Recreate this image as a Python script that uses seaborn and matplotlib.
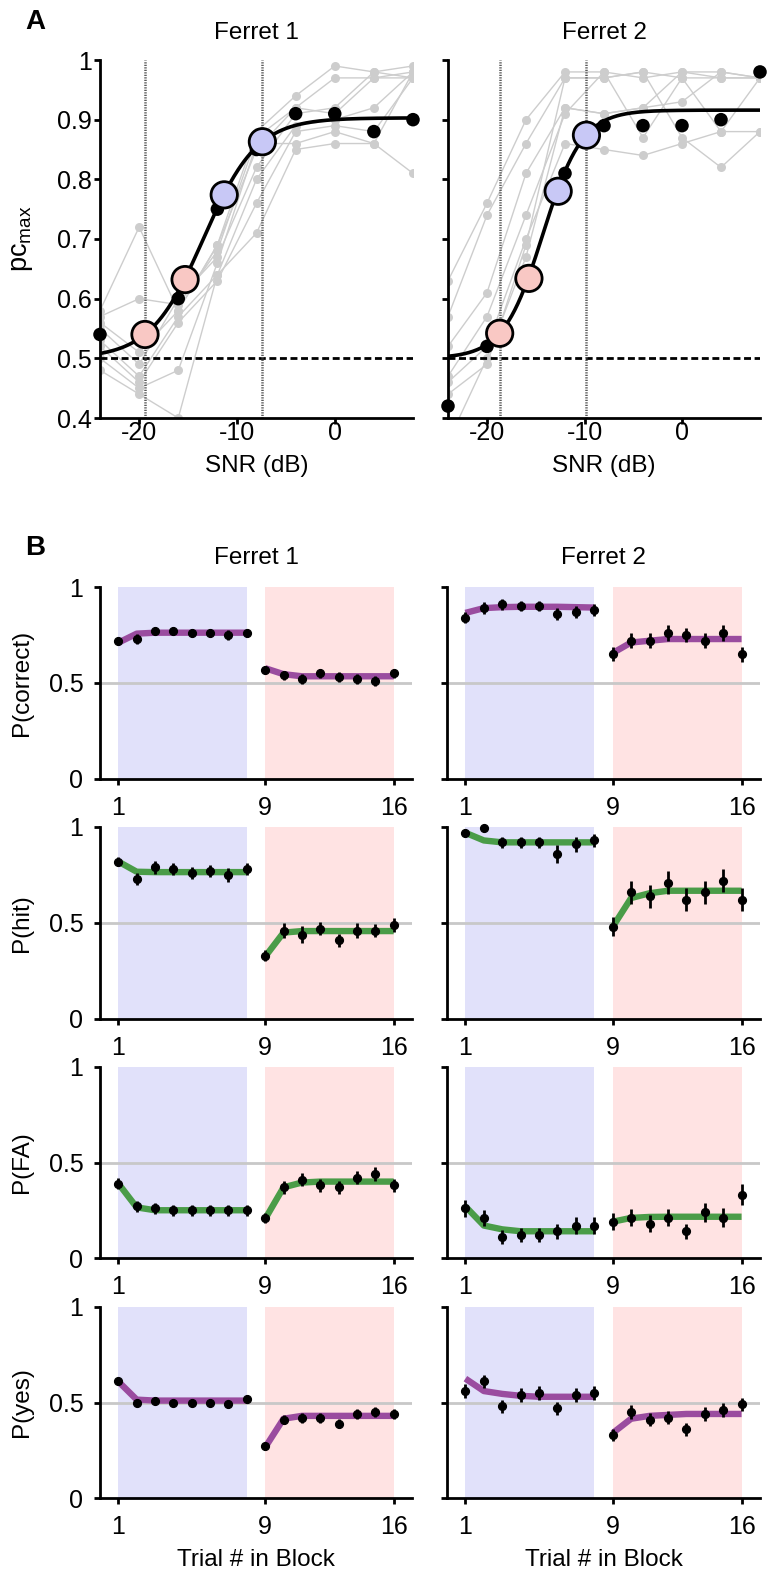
import numpy as np
import pandas as pd
import seaborn as sns
import matplotlib.pyplot as plt

sns.set_theme(style="ticks")
plt.rcParams['font.family'] = ['Liberation Sans', 'DejaVu Sans']
plt.rcParams['mathtext.fontset'] = 'custom'
plt.rcParams['mathtext.rm'] = 'Liberation Sans'
plt.rcParams['mathtext.default'] = 'regular'
plt.rcParams['text.color'] = 'black'
plt.rcParams['axes.labelcolor'] = 'black'
plt.rcParams['xtick.color'] = 'black'
plt.rcParams['ytick.color'] = 'black'

# ---------------- panel A data ----------------
snr = [-24, -20, -16, -12, -8, -4, 0, 4, 8]

f1_mean = [0.54, 0.54, 0.60, 0.75, 0.85, 0.91, 0.91, 0.88, 0.90]
f2_mean = [0.42, 0.52, 0.63, 0.81, 0.89, 0.89, 0.89, 0.90, 0.98]

# single sessions (grey)
f1_sessions = [
    [0.58, 0.72, 0.58, 0.69, 0.88, 0.94, 0.99, 0.98, 0.99],
    [0.57, 0.60, 0.59, 0.68, 0.87, 0.92, 0.97, 0.97, 0.98],
    [0.55, 0.49, 0.60, 0.67, 0.82, 0.91, 0.92, 0.98, 0.97],
    [0.53, 0.47, 0.57, 0.64, 0.80, 0.89, 0.90, 0.92, 0.98],
    [0.52, 0.46, 0.56, 0.63, 0.76, 0.88, 0.89, 0.88, 0.97],
    [0.50, 0.45, 0.48, 0.66, 0.86, 0.86, 0.88, 0.86, 0.98],
    [0.48, 0.44, 0.40, 0.64, 0.71, 0.85, 0.86, 0.86, 0.81],
    [0.56, 0.51, 0.58, 0.69, 0.85, 0.92, 0.91, 0.97, 0.97],
]
f2_sessions = [
    [0.63, 0.76, 0.90, 0.98, 0.98, 0.97, 0.98, 0.98, 0.97],
    [0.57, 0.74, 0.86, 0.97, 0.97, 0.98, 0.97, 0.97, 0.97],
    [0.52, 0.61, 0.81, 0.92, 0.91, 0.92, 0.93, 0.98, 0.97],
    [0.47, 0.57, 0.74, 0.91, 0.98, 0.87, 0.97, 0.88, 0.97],
    [0.46, 0.52, 0.70, 0.86, 0.85, 0.84, 0.86, 0.88, 0.88],
    [0.44, 0.49, 0.69, 0.97, 0.97, 0.98, 0.87, 0.82, 0.88],
    [0.36, 0.50, 0.67, 0.92, 0.91, 0.92, 0.98, 0.97, 0.97],
]

# psychometric fit parameters: lower, upper, midpoint, slope
f1_fit = (0.5, 0.903, -13.4, 2.73)
f2_fit = (0.5, 0.916, -14.27, 2.03)

# SNRs used in the task (big circles)
f1_thr_x = [-19.4, -15.3, -11.3, -7.4]
f1_thr_y = [0.540, 0.632, 0.774, 0.863]
f2_thr_x = [-18.7, -15.7, -12.7, -9.8]
f2_thr_y = [0.542, 0.634, 0.780, 0.874]
thr_kind = ['low', 'low', 'high', 'high']

# ---------------- panel B data ----------------
trials = list(range(1, 17))
row_labels = ['P(correct)', 'P(hit)', 'P(FA)', 'P(yes)']

f1_correct = [0.72, 0.73, 0.77, 0.77, 0.76, 0.76, 0.75, 0.76, 0.57, 0.54, 0.52, 0.55, 0.53, 0.52, 0.51, 0.55]
f1_correct_fit = [0.71, 0.757, 0.762, 0.762, 0.762, 0.762, 0.762, 0.762, 0.577, 0.546, 0.535, 0.535, 0.535, 0.535, 0.535, 0.535]
f1_correct_err = [0.02, 0.025, 0.02, 0.02, 0.02, 0.02, 0.025, 0.02, 0.02, 0.025, 0.025, 0.025, 0.025, 0.025, 0.025, 0.025]

f1_hit = [0.82, 0.73, 0.79, 0.78, 0.76, 0.77, 0.75, 0.78, 0.33, 0.46, 0.44, 0.47, 0.41, 0.46, 0.46, 0.49]
f1_hit_fit = [0.82, 0.767, 0.765, 0.765, 0.765, 0.765, 0.765, 0.765, 0.325, 0.45, 0.458, 0.458, 0.458, 0.458, 0.458, 0.458]
f1_hit_err = [0.025, 0.03, 0.035, 0.03, 0.03, 0.03, 0.035, 0.03, 0.03, 0.04, 0.045, 0.035, 0.035, 0.04, 0.035, 0.035]

f1_fa = [0.39, 0.27, 0.26, 0.25, 0.25, 0.25, 0.25, 0.25, 0.21, 0.37, 0.41, 0.38, 0.37, 0.42, 0.44, 0.38]
f1_fa_fit = [0.39, 0.265, 0.25, 0.25, 0.25, 0.25, 0.25, 0.25, 0.205, 0.37, 0.395, 0.40, 0.40, 0.40, 0.40, 0.40]
f1_fa_err = [0.03, 0.03, 0.03, 0.03, 0.03, 0.03, 0.03, 0.03, 0.025, 0.035, 0.035, 0.035, 0.035, 0.035, 0.035, 0.035]

f1_yes = [0.61, 0.50, 0.51, 0.50, 0.50, 0.50, 0.49, 0.52, 0.27, 0.41, 0.42, 0.42, 0.39, 0.44, 0.45, 0.44]
f1_yes_fit = [0.61, 0.515, 0.51, 0.51, 0.51, 0.51, 0.51, 0.51, 0.265, 0.415, 0.43, 0.43, 0.43, 0.43, 0.43, 0.43]
f1_yes_err = [0.02, 0.02, 0.02, 0.02, 0.02, 0.02, 0.02, 0.02, 0.02, 0.025, 0.025, 0.025, 0.025, 0.025, 0.025, 0.025]

f2_correct = [0.84, 0.89, 0.91, 0.90, 0.90, 0.86, 0.87, 0.88, 0.65, 0.72, 0.72, 0.76, 0.75, 0.72, 0.76, 0.65]
f2_correct_fit = [0.865, 0.89, 0.895, 0.897, 0.897, 0.897, 0.895, 0.893, 0.656, 0.711, 0.72, 0.729, 0.729, 0.729, 0.729, 0.729]
f2_correct_err = [0.03, 0.03, 0.03, 0.025, 0.025, 0.03, 0.03, 0.03, 0.035, 0.04, 0.04, 0.04, 0.035, 0.04, 0.04, 0.04]

f2_hit = [0.97, 0.995, 0.92, 0.92, 0.92, 0.86, 0.91, 0.93, 0.48, 0.66, 0.64, 0.71, 0.62, 0.66, 0.72, 0.62]
f2_hit_fit = [0.97, 0.93, 0.92, 0.92, 0.92, 0.92, 0.92, 0.92, 0.48, 0.63, 0.655, 0.668, 0.668, 0.668, 0.668, 0.668]
f2_hit_err = [0.02, 0.0, 0.03, 0.03, 0.03, 0.045, 0.04, 0.035, 0.05, 0.06, 0.06, 0.06, 0.06, 0.06, 0.06, 0.06]

f2_fa = [0.26, 0.21, 0.11, 0.12, 0.12, 0.14, 0.17, 0.17, 0.19, 0.21, 0.18, 0.21, 0.14, 0.24, 0.21, 0.33]
f2_fa_fit = [0.27, 0.17, 0.15, 0.14, 0.14, 0.14, 0.14, 0.14, 0.19, 0.21, 0.215, 0.216, 0.216, 0.216, 0.216, 0.216]
f2_fa_err = [0.045, 0.04, 0.035, 0.035, 0.035, 0.04, 0.045, 0.045, 0.045, 0.045, 0.045, 0.045, 0.04, 0.05, 0.05, 0.055]

f2_yes = [0.56, 0.61, 0.48, 0.54, 0.55, 0.47, 0.54, 0.55, 0.33, 0.45, 0.41, 0.42, 0.36, 0.44, 0.46, 0.49]
f2_yes_fit = [0.625, 0.56, 0.545, 0.535, 0.53, 0.53, 0.53, 0.53, 0.34, 0.415, 0.43, 0.435, 0.44, 0.44, 0.44, 0.44]
f2_yes_err = [0.035, 0.035, 0.035, 0.035, 0.035, 0.035, 0.035, 0.035, 0.03, 0.035, 0.035, 0.035, 0.035, 0.035, 0.035, 0.035]

# colours
purple = '#9a4c9f'
green = '#4a9c48'
row_colors = [purple, green, green, purple]
blue_shade = '#e1e1fa'
pink_shade = '#ffe3e3'
thr_palette = {'low': '#f9c8c4', 'high': '#c8c8f6'}

tick_fs = 18
lab_fs = 17.5

W, H = 771, 1575
fig = plt.figure(figsize=(W / 100, H / 100), dpi=100)


def px_axes(x0, x1, ytop, ybot):
    return fig.add_axes([x0 / W, 1 - ybot / H, (x1 - x0) / W, (ybot - ytop) / H])


def style_axes(ax, ypad, xpad):
    sns.despine(ax=ax)
    for s in ['left', 'bottom']:
        ax.spines[s].set_linewidth(2)
        ax.spines[s].set_color('black')
    ax.tick_params(direction='out', length=4, width=2, colors='black',
                   labelsize=tick_fs)
    ax.tick_params(axis='y', pad=ypad)
    ax.tick_params(axis='x', pad=xpad)
    ax.set_facecolor('white')


# ---------------- panel A ----------------
a_boxes = [(100, 413), (448, 760)]
a_data = [(f1_sessions, f1_mean, f1_fit, f1_thr_x, f1_thr_y, 'Ferret 1'),
          (f2_sessions, f2_mean, f2_fit, f2_thr_x, f2_thr_y, 'Ferret 2')]

for i, ((x0, x1), (sess, mean, fit, tx, ty, title)) in enumerate(zip(a_boxes, a_data)):
    ax = px_axes(x0, x1, 60, 418)
    style_axes(ax, 2, -2)

    df_s = pd.DataFrame([(k, s, v) for k, row in enumerate(sess) for s, v in zip(snr, row)],
                        columns=['session', 'snr', 'pc'])
    sns.lineplot(data=df_s, x='snr', y='pc', units='session', estimator=None,
                 color='#cdcdcd', lw=1, marker='o', markersize=6.5, markeredgewidth=0,
                 legend=False, ax=ax, zorder=1)

    ax.axhline(0.5, color='black', lw=2, linestyle=(0, (2.5, 1.3)), zorder=2)
    for xv in (tx[0], tx[-1]):
        ax.axvline(xv, color='#5a5a5a', lw=1.8, linestyle=(0, (0.5, 0.5)), zorder=2)

    sns.scatterplot(x=snr, y=mean, color='black', s=95, edgecolor='none',
                    ax=ax, zorder=4, clip_on=False, legend=False)

    lo, hi, mu, sl = fit
    xf = np.linspace(-24, 8, 300)
    yf = lo + (hi - lo) / (1 + np.exp(-(xf - mu) / sl))
    sns.lineplot(x=xf, y=yf, color='black', lw=2.6, ax=ax, zorder=5)

    sns.scatterplot(x=tx, y=ty, hue=thr_kind, palette=thr_palette, s=360,
                    edgecolor='black', linewidth=2, ax=ax, zorder=6, legend=False)

    ax.set_xlim(-24, 8)
    ax.set_ylim(0.4, 1.0)
    ax.set_xticks([-20, -10, 0])
    ax.set_xticklabels(['-20', '-10', '0'])
    yt = [0.4, 0.5, 0.6, 0.7, 0.8, 0.9, 1.0]
    ax.set_yticks(yt)
    if i == 0:
        ax.set_yticklabels(['0.4', '0.5', '0.6', '0.7', '0.8', '0.9', '1'])
        ax.set_ylabel(r'pc$_{max}$', fontsize=lab_fs + 2)
        ax.yaxis.set_label_coords((22 - x0) / (x1 - x0), 0.5)
        ax.yaxis.label.set_va('center')
    else:
        ax.set_yticklabels([])
        ax.set_ylabel('')
    ax.set_xlabel('SNR (dB)', fontsize=lab_fs)
    ax.xaxis.set_label_coords(0.5, (418 - 466) / 358)
    ax.xaxis.label.set_va('center')
    ax.text(0.5, 1 + 27 / 358, title, transform=ax.transAxes, ha='center',
            va='center', fontsize=lab_fs)

fig.text(35 / W, 1 - 22 / H, 'A', ha='center', va='center', fontsize=20, fontweight='bold')

# ---------------- panel B ----------------
b_cols = [(100, 412), (447, 760)]
b_rows = [(587, 779), (827, 1019), (1067, 1258), (1307, 1498)]
b_vals = [[(f1_correct, f1_correct_fit, f1_correct_err), (f2_correct, f2_correct_fit, f2_correct_err)],
          [(f1_hit, f1_hit_fit, f1_hit_err), (f2_hit, f2_hit_fit, f2_hit_err)],
          [(f1_fa, f1_fa_fit, f1_fa_err), (f2_fa, f2_fa_fit, f2_fa_err)],
          [(f1_yes, f1_yes_fit, f1_yes_err), (f2_yes, f2_yes_fit, f2_yes_err)]]
block = ['blue'] * 8 + ['pink'] * 8

for r, (yt0, yb0) in enumerate(b_rows):
    for c, (x0, x1) in enumerate(b_cols):
        vals, fitv, err = b_vals[r][c]
        ax = px_axes(x0, x1, yt0, yb0)
        style_axes(ax, 8, 8)

        ax.axvspan(1, 8, color=blue_shade, lw=0, zorder=0)
        ax.axvspan(9, 16, color=pink_shade, lw=0, zorder=0)
        ax.axhline(0.5, color='#c8c8c8', lw=2, zorder=1)

        df_f = pd.DataFrame({'trial': trials, 'fit': fitv, 'block': block})
        sns.lineplot(data=df_f, x='trial', y='fit', units='block', estimator=None,
                     color=row_colors[r], lw=4.6, legend=False, ax=ax, zorder=2,
                     solid_capstyle='butt')

        ax.errorbar(trials, vals, yerr=err, fmt='o', color='black', ms=5.6,
                    elinewidth=2, capsize=0, zorder=3, clip_on=False)

        ax.set_xlim(0, 17)
        ax.set_ylim(0, 1)
        ax.set_xticks([1, 9, 16])
        ax.set_xticklabels(['1', '9', '16'])
        ax.set_yticks([0, 0.5, 1])
        if c == 0:
            ax.set_yticklabels(['0', '0.5', '1'])
            ax.set_ylabel(row_labels[r], fontsize=lab_fs)
            ax.yaxis.set_label_coords((22 - x0) / (x1 - x0), 0.5)
            ax.yaxis.label.set_va('center')
        else:
            ax.set_yticklabels([])
            ax.set_ylabel('')
        if r == 3:
            ax.set_xlabel('Trial # in Block', fontsize=lab_fs)
            ax.xaxis.set_label_coords(0.5, (1498 - 1560) / 192)
            ax.xaxis.label.set_va('center')
        else:
            ax.set_xlabel('')
        if r == 0:
            ax.text(0.5, 1 + 29 / 192, 'Ferret %d' % (c + 1), transform=ax.transAxes,
                    ha='center', va='center', fontsize=lab_fs)

fig.text(35 / W, 1 - 548 / H, 'B', ha='center', va='center', fontsize=20, fontweight='bold')

fig.savefig('out.png', dpi=100, facecolor='white')
